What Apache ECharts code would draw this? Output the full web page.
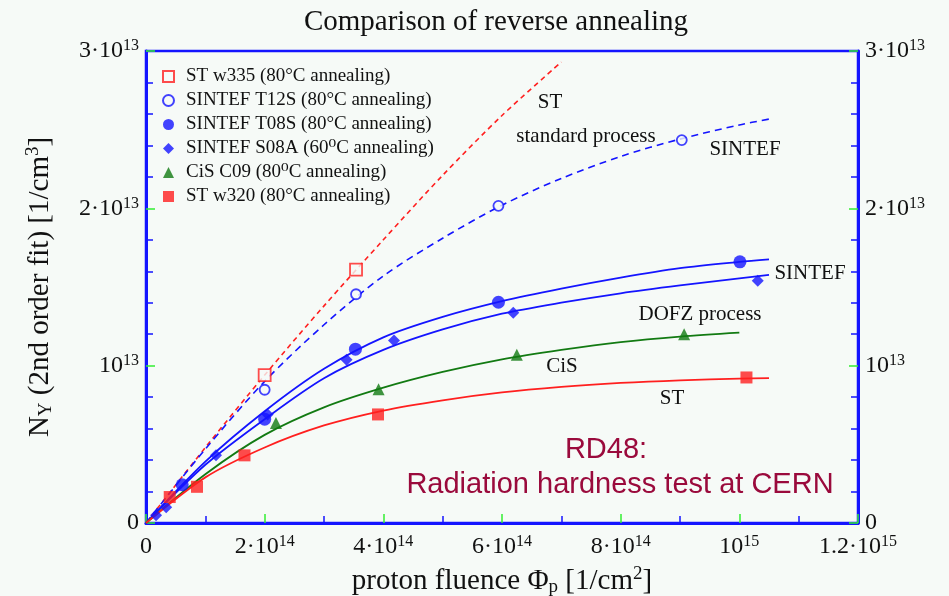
<!DOCTYPE html>
<html>
<head>
<meta charset="utf-8">
<script src="https://cdn.jsdelivr.net/npm/echarts@6/dist/echarts.min.js"></script>
<style>
html, body { margin: 0; padding: 0; background: #f6faf7; }
#main { width: 949px; height: 596px; }
</style>
</head>
<body>
<div id="main"></div>
<script>
// fluence in units of 1e14 /cm2, N_Y in units of 1e13 /cm3

// tick labels: [base, exponent]
var xTickLabels = { 0: ['0', ''], 2: ['2·10', '14'], 4: ['4·10', '14'], 6: ['6·10', '14'], 8: ['8·10', '14'], 10: ['10', '15'], 12: ['1.2·10', '15'] };
var yTickLabels = { 0: ['0', ''], 1: ['10', '13'], 2: ['2·10', '13'], 3: ['3·10', '13'] };

// measured points
var stW335 = [[2.0, 0.94], [3.54, 1.61]];
var sintefT12S = [[2.0, 0.847], [3.54, 1.454], [5.94, 2.016], [9.03, 2.434]];
var sintefT08S = [[0.61, 0.243], [2.0, 0.66], [3.53, 1.105], [5.94, 1.403], [10.01, 1.66]];
var sintefS08A = [[0.17, 0.05], [0.34, 0.1], [1.18, 0.43], [2.05, 0.69], [3.38, 1.037], [4.18, 1.16], [6.19, 1.337], [10.31, 1.54]];
var cisC09 = [[2.19, 0.636], [3.92, 0.85], [6.25, 1.07], [9.07, 1.2]];
var stW320 = [[0.40, 0.165], [0.86, 0.23], [1.66, 0.43], [3.91, 0.69], [10.12, 0.925]];

// fit curves
var fitStW335 = [[0, 0], [1, 0.48], [2, 0.94], [3, 1.38], [4, 1.80], [5, 2.21], [6, 2.59], [7, 2.93]];
var fitT12S = [[0, 0], [1, 0.47], [2, 0.90], [3, 1.26], [4, 1.57], [5, 1.81], [6, 2.02], [7, 2.19], [8, 2.33], [9, 2.44], [10, 2.53], [10.5, 2.567]];
var fitT08S = [[0, 0], [1, 0.39], [2, 0.71], [3, 0.98], [4, 1.18], [5, 1.31], [6, 1.41], [7, 1.49], [8, 1.56], [9, 1.62], [10, 1.66], [10.5, 1.676]];
var fitS08A = [[0, 0], [1, 0.37], [2, 0.66], [3, 0.92], [4, 1.10], [5, 1.23], [6, 1.33], [7, 1.40], [8, 1.46], [9, 1.51], [10, 1.555], [10.5, 1.577]];
var fitCiS = [[0, 0], [1, 0.31], [2, 0.56], [3, 0.735], [4, 0.86], [5, 0.96], [6, 1.04], [7, 1.10], [8, 1.15], [9, 1.185], [10, 1.21]];
var fitStW320 = [[0, 0], [1, 0.29], [2, 0.48], [3, 0.62], [4, 0.715], [5, 0.78], [6, 0.83], [7, 0.865], [8, 0.89], [9, 0.907], [10, 0.918], [10.5, 0.921]];

var serif = '"Liberation Serif", "DejaVu Serif", serif';
var red = '#ff1f1f', blue = '#1414ff', green = '#127a12', bg = '#f6faf7';

var chartDom = document.getElementById('main');
var myChart = echarts.init(chartDom);

function supLabel(map) {
    return function (v) {
        var t = map[v];
        if (!t) return '';
        return t[1] ? '{b|' + t[0] + '}{s|' + t[1] + '}' : '{b|' + t[0] + '}';
    };
}
var labelRich = {
    b: { fontFamily: serif, fontSize: 24, color: '#111', lineHeight: 26 },
    s: { fontFamily: serif, fontSize: 16, color: '#111', lineHeight: 14, verticalAlign: 'top', padding: [0, 0, 8, 0] }
};
var nameRich = {
    t: { fontFamily: serif, fontSize: 29, color: '#111', lineHeight: 32 },
    sub: { fontFamily: serif, fontSize: 19, color: '#111', lineHeight: 16, verticalAlign: 'bottom' },
    sup: { fontFamily: serif, fontSize: 19, color: '#111', lineHeight: 16, verticalAlign: 'top' }
};

function yAxis(pos) {
    return {
        type: 'value', position: pos, min: 0, max: 3, interval: 1,
        axisLine: { show: true, lineStyle: { color: blue, width: 3 } },
        axisTick: { show: true, inside: true, length: 9, lineStyle: { color: '#33ee33', width: 1.5 } },
        minorTick: { show: true, splitNumber: 5, length: 7, lineStyle: { color: blue, width: 1.5 } },
        splitLine: { show: false },
        axisLabel: { margin: 7, formatter: supLabel(yTickLabels), rich: labelRich },
        name: pos === 'left' ? '{t|N}{sub|Y}{t| (2nd order fit) [1/cm}{sup|3}{t|]}' : '',
        nameLocation: 'middle', nameGap: 90, nameRotate: 90,
        nameTextStyle: { rich: nameRich }
    };
}

function pts(name, data, symbol, size, filled, color) {
    return {
        name: name, type: 'scatter', data: data, symbol: symbol, symbolSize: size, z: 5,
        itemStyle: filled ? { color: color } : { color: bg, borderColor: color, borderWidth: 1.8 }
    };
}
function fit(data, color, dash, width) {
    return {
        type: 'line', data: data, smooth: 0.3, showSymbol: false, silent: true, z: 3,
        lineStyle: { color: color, width: width || 1.8, type: dash || 'solid' }
    };
}

function note(x, y, text) {
    return { type: 'text', x: x, y: y, style: { text: text, font: '21px ' + serif, fill: '#111', align: 'center', verticalAlign: 'middle' } };
}

var option = {
    backgroundColor: bg,
    animation: false,
    title: {
        text: 'Comparison of reverse annealing', left: 491, top: 3, textAlign: 'center',
        textStyle: { fontFamily: serif, fontSize: 29, fontWeight: 'normal', color: '#111' }
    },
    legend: {
        orient: 'vertical', left: 157, top: 62, itemWidth: 11, itemHeight: 11, itemGap: 5,
        data: ['ST w335 (80°C annealing)', 'SINTEF T12S (80°C annealing)', 'SINTEF T08S (80°C annealing)',
            'SINTEF S08A (60⁰C annealing)', 'CiS C09 (80⁰C annealing)', 'ST w320 (80°C annealing)'],
        textStyle: { fontFamily: serif, fontSize: 19, lineHeight: 19, color: '#111', padding: [0, 0, 0, 7] }
    },
    grid: {
        left: 146, right: 91, top: 51, bottom: 73,
        outerBoundsMode: 'none', containLabel: false,
        show: true, borderColor: blue, borderWidth: 2.5, backgroundColor: 'transparent'
    },
    xAxis: {
        type: 'value', min: 0, max: 12, interval: 2,
        axisLine: { show: true, onZero: false, lineStyle: { color: blue, width: 3 } },
        axisTick: { show: true, inside: true, length: 9, lineStyle: { color: '#33ee33', width: 1.5 } },
        minorTick: { show: true, splitNumber: 2, length: 7, lineStyle: { color: blue, width: 1.5 } },
        splitLine: { show: false },
        axisLabel: { margin: 11, formatter: supLabel(xTickLabels), rich: labelRich },
        name: '{t|proton fluence Φ}{sub|p}{t| [1/cm}{sup|2}{t|]}',
        nameLocation: 'middle', nameGap: 42,
        nameTextStyle: { rich: nameRich }
    },
    yAxis: [yAxis('left'), yAxis('right')],
    graphic: [
        note(550, 102, 'ST'),
        note(586, 136, 'standard process'),
        note(745, 149, 'SINTEF'),
        note(810, 273, 'SINTEF'),
        note(700, 314, 'DOFZ process'),
        note(562, 366, 'CiS'),
        note(672, 398, 'ST'),
        { type: 'text', x: 606, y: 450, style: { text: 'RD48:', font: '29px "Liberation Sans", Arial, sans-serif', fill: '#9a0a3c', align: 'center', verticalAlign: 'middle' } },
        { type: 'text', x: 620, y: 485, style: { text: 'Radiation hardness test at CERN', font: '29px "Liberation Sans", Arial, sans-serif', fill: '#9a0a3c', align: 'center', verticalAlign: 'middle' } }
    ],
    series: [
        fit(fitStW335, red, [5, 4], 1.6),
        fit(fitT12S, blue, [7, 5], 1.6),
        fit(fitT08S, blue),
        fit(fitS08A, blue),
        fit(fitCiS, green),
        fit(fitStW320, red),
        pts('ST w335 (80°C annealing)', stW335, 'rect', 12, false, red),
        pts('SINTEF T12S (80°C annealing)', sintefT12S, 'circle', 10, false, blue),
        pts('SINTEF T08S (80°C annealing)', sintefT08S, 'circle', 13, true, blue),
        pts('SINTEF S08A (60⁰C annealing)', sintefS08A, 'diamond', 12, true, blue),
        pts('CiS C09 (80⁰C annealing)', cisC09, 'triangle', 12, true, green),
        pts('ST w320 (80°C annealing)', stW320, 'rect', 12, true, red)
    ]
};

myChart.setOption(option);
</script>
</body>
</html>
